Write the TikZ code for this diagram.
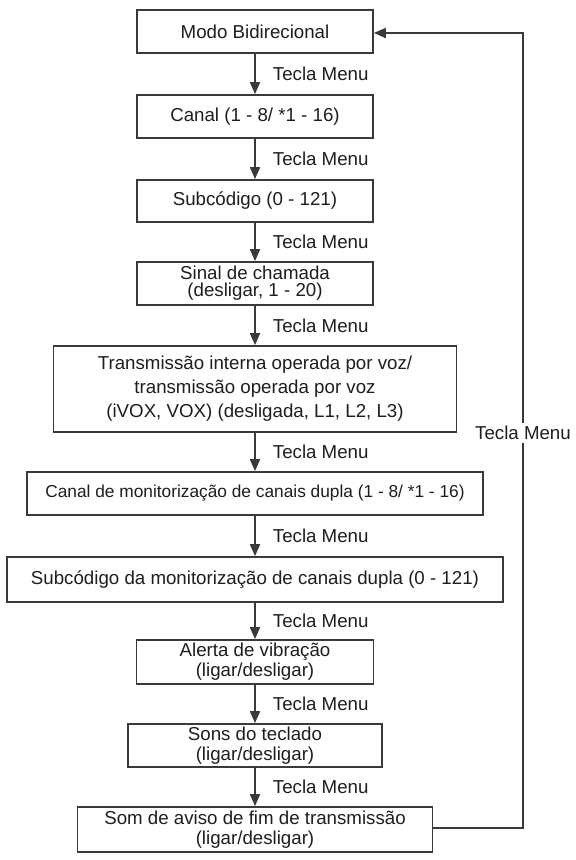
\documentclass[tikz,border=0pt]{standalone}
\usepackage{fontspec}
\setmainfont{Liberation Sans}
\usetikzlibrary{arrows.meta}
\definecolor{ln}{HTML}{3A3A3A}
\definecolor{tx}{HTML}{1E1E1E}
\tikzset{
  box/.style={draw=ln, line width=1.8pt, fill=white, inner sep=0pt, align=center,
    text=tx, font=\fontsize{18.7}{20}\selectfont},
  arr/.style={draw=ln, line width=1.8pt, -{Triangle[length=12pt,width=10pt]}},
  lbl/.style={text=tx, inner sep=0pt, font=\fontsize{18.7}{20}\selectfont},
}
\begin{document}
\begin{tikzpicture}[x=1pt,y=-1pt]
\useasboundingbox (0,0) rectangle (576,860);
\node[box, minimum width=236pt, minimum height=43pt] (b1) at (255,31.5) {Modo Bidirecional};
\node[box, minimum width=236pt, minimum height=43pt] (b2) at (255,116.5) {Canal (1 - 8/ *1 - 16)};
\node[box, minimum width=236pt, minimum height=42pt] (b3) at (255,201) {Subcódigo (0 - 121)};
\node[box, minimum width=236pt, minimum height=43pt, font=\fontsize{18.7}{17}\selectfont] (b4) at (255,283.5) {Sinal de chamada\\ (desligar, 1 - 20)};
\node[box, minimum width=403pt, minimum height=86pt, font=\fontsize{18.7}{24}\selectfont] (b5) at (255,389) {Transmissão interna operada por voz/\\transmissão operada por voz\\(iVOX, VOX) (desligada, L1, L2, L3)};
\node[box, minimum width=456pt, minimum height=43pt, font=\fontsize{17.3}{20}\selectfont] (b6) at (255,493.5) {Canal de monitorização de canais dupla (1 - 8/ *1 - 16)};
\node[box, minimum width=496pt, minimum height=45pt] (b7) at (255,579.5) {Subcódigo da monitorização de canais dupla (0 - 121)};
\node[box, minimum width=237pt, minimum height=44pt] (b8) at (255,662) {Alerta de vibração\\(ligar/desligar)};
\node[box, minimum width=254pt, minimum height=43pt] (b9) at (255,745.5) {Sons do teclado\\(ligar/desligar)};
\node[box, minimum width=355pt, minimum height=45pt] (b10) at (255,829.5) {Som de aviso de fim de transmissão\\(ligar/desligar)};
\foreach \a/\b in {b1/b2,b2/b3,b3/b4,b4/b5,b5/b6,b6/b7,b7/b8,b8/b9,b9/b10}{
  \draw[arr] (\a.south) -- (\b.north) node[lbl, midway, anchor=west, xshift=17pt] {Tecla Menu};
}
\coordinate (c1) at (523,828);
\coordinate (c2) at (523,33);
\draw[arr] (b10.east |- c1) -- (c1) -- node[lbl, fill=white, inner ysep=3pt, pos=0.5, yshift=-2.5pt] {Tecla Menu} (c2) -- (b1.east |- c2);
\end{tikzpicture}
\end{document}
